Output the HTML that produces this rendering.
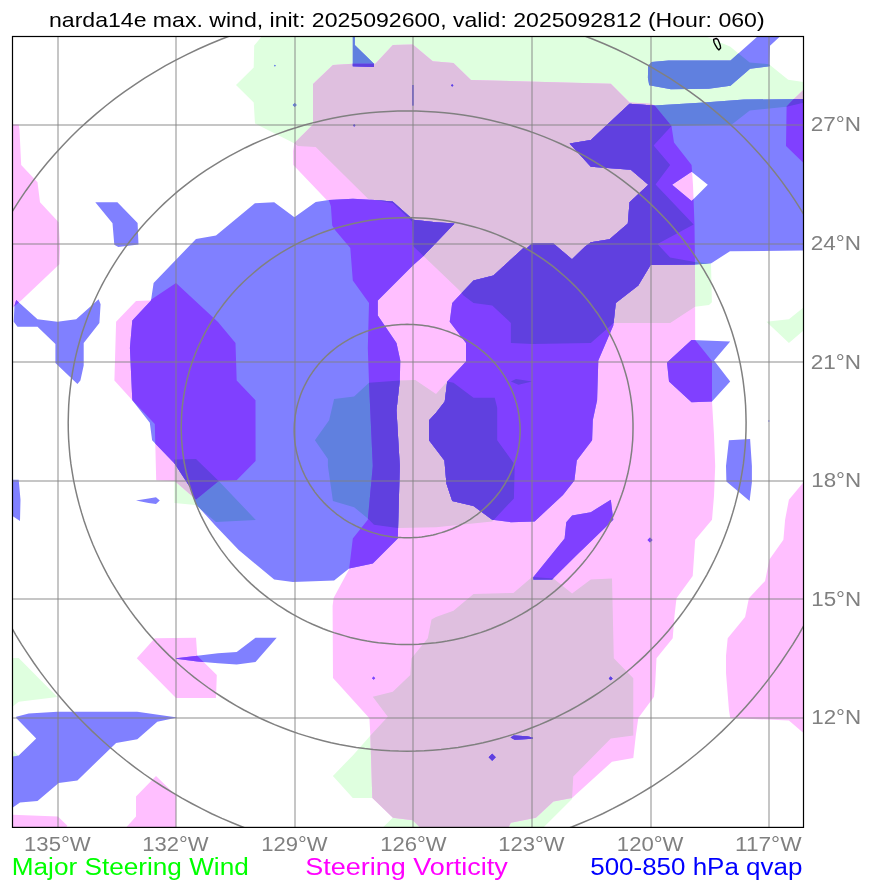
<!DOCTYPE html>
<html><head><meta charset="utf-8"><title>narda14e</title>
<style>html,body{margin:0;padding:0;background:#fff}svg{display:block}text{font-family:"Liberation Sans",sans-serif}</style></head>
<body>
<svg width="873" height="891" viewBox="0 0 873 891">
<rect width="873" height="891" fill="#fff"/>
<defs><clipPath id="ax"><rect x="12.5" y="36.5" width="791.0" height="790.9"/></clipPath>
<clipPath id="cG"><path clip-rule="evenodd" d="M261.7,36.5 L254.2,45.5 L253.7,67.5 L236.0,85.0 L253.7,102.4 L255.0,123.6 L293.7,143.0 L297.9,146.0 L315.7,147.1 L368.0,198.7 L392.7,203.0 L412.0,221.5 L413.0,246.0 L459.0,290.0 L463.5,295.4 L473.5,303.0 L492.2,305.4 L510.9,322.9 L510.9,342.9 L532.1,344.1 L590.8,342.9 L610.8,325.4 L613.3,322.9 L670.2,322.9 L695.0,306.7 L709.0,305.0 L711.9,302.2 L711.0,263.5 L695.0,262.0 L670.1,257.5 L657.5,244.0 L693.6,224.4 L655.6,184.4 L670.2,165.0 L653.6,145.5 L671.5,126.0 L731.5,124.8 L749.8,110.4 L786.5,106.8 L803.5,102.8 L803.5,82.0 L788.2,79.7 L769.0,64.3 L749.7,62.4 L730.0,46.6 L706.0,36.5Z M399.8,380.4 L369.0,382.8 L354.1,396.6 L334.1,399.1 L329.1,420.3 L314.9,440.3 L327.9,459.0 L327.9,466.0 L332.9,501.0 L354.1,507.2 L367.8,518.4 L374.0,524.7 L397.8,527.9 L436.0,527.2 L492.2,521.4 L513.9,498.5 L514.7,466.0 L513.4,462.8 L497.2,440.3 L497.2,407.8 L494.7,397.8 L473.5,397.8 L453.5,382.8 L447.2,381.6 L436.0,394.0 L415.3,379.9Z M174.4,459.6 L174.4,502.9 L195.4,504.9 L216.0,522.1 L255.8,520.0 L218.7,480.9 L196.0,459.1Z M436.0,617.0 L431.5,619.6 L427.8,638.3 L411.5,658.3 L410.3,675.0 L392.8,691.7 L372.8,696.7 L387.8,716.7 L371.6,734.2 L352.8,755.4 L332.9,775.9 L352.8,797.9 L372.3,797.9 L392.8,817.8 L382.8,827.4 L543.4,827.4 L572.0,799.0 L573.3,776.6 L610.8,738.4 L633.3,735.4 L633.3,678.3 L613.8,658.3 L612.0,578.4 L590.8,579.6 L572.1,593.4 L553.4,578.4 L532.1,577.1 L513.4,592.9 L473.5,593.9 L453.5,610.8Z M766.4,321.7 L788.9,319.2 L803.5,307.4 L803.5,330.4 L788.9,342.9Z M12.5,658.0 L18.7,658.0 L57.4,697.0 L18.7,701.7 L12.5,706.7Z M12.5,750.0 L18.0,755.4 L12.5,757.0Z M510.9,381.6 L516.0,379.0 L532.1,381.6 L518.4,384.8Z"/></clipPath>
<clipPath id="cM"><path clip-rule="evenodd" d="M12.5,124.6 L18.7,124.6 L19.5,130.0 L21.2,165.0 L37.5,182.3 L40.0,202.3 L58.7,222.3 L60.0,248.0 L59.4,264.2 L22.5,299.2 L12.5,308.0Z M149.8,300.4 L136.0,301.0 L116.1,321.7 L114.4,380.4 L132.3,400.3 L154.8,424.0 L156.2,480.2 L174.7,480.9 L196.0,499.4 L218.7,480.9 L236.6,480.2 L255.6,460.9 L255.5,400.3 L236.7,380.4 L235.5,342.9 L218.0,322.0 L176.0,283.0Z M313.0,84.0 L332.9,65.0 L352.8,63.7 L375.3,63.7 L392.8,45.0 L412.8,44.5 L432.8,61.2 L453.5,63.0 L471.0,80.0 L610.8,83.7 L629.5,102.4 L650.8,103.7 L654.6,105.6 L671.5,126.0 L674.0,142.6 L691.6,165.0 L693.0,185.0 L694.5,224.4 L695.0,264.4 L695.2,340.0 L712.0,361.0 L712.0,401.6 L714.0,435.3 L715.2,466.0 L714.0,496.0 L712.0,519.7 L695.2,539.7 L692.7,575.9 L676.5,598.3 L674.5,615.8 L672.7,638.3 L656.5,658.3 L655.2,684.0 L654.0,696.7 L638.3,718.0 L635.8,735.4 L633.3,757.9 L612.0,761.7 L572.0,797.9 L553.4,801.6 L535.9,817.8 L510.9,822.8 L508.4,827.4 L420.0,827.4 L412.8,820.3 L392.8,817.8 L372.3,797.9 L370.3,734.2 L369.4,718.3 L333.0,678.0 L332.6,606.0 L333.6,598.0 L349.1,569.2 L352.8,538.4 L367.8,519.7 L372.8,466.0 L369.0,382.8 L367.8,347.9 L369.0,303.0 L352.8,280.5 L350.3,248.0 L335.0,230.0 L332.2,225.5 L330.9,206.2 L328.8,200.0 L326.7,200.0 L293.3,165.0 L293.1,151.2 L294.4,143.0 L313.0,124.4Z M803.5,89.8 L793.5,99.3 L786.6,106.5 L786.0,146.0 L803.5,163.0Z M154.8,638.3 L196.0,637.8 L197.3,655.8 L216.8,675.0 L216.0,698.0 L176.0,698.0 L136.8,658.3Z M156.0,775.9 L176.0,795.4 L176.0,827.4 L126.1,827.4 L136.0,816.6 L136.0,796.6Z M12.5,814.8 L25.0,815.3 L57.9,816.6 L67.4,825.8 L66.0,827.4 L12.5,827.4Z M803.5,482.2 L788.9,499.7 L785.1,519.7 L783.4,539.7 L769.4,559.6 L765.1,580.9 L748.9,598.3 L745.1,617.0 L727.7,638.3 L726.0,655.8 L726.0,673.0 L729.0,710.5 L730.2,718.0 L788.9,720.5 L803.5,733.0Z"/></clipPath></defs>
<g clip-path="url(#ax)">
<path fill="#dfffdf" fill-rule="evenodd" d="M261.7,36.5 L254.2,45.5 L253.7,67.5 L236.0,85.0 L253.7,102.4 L255.0,123.6 L293.7,143.0 L297.9,146.0 L315.7,147.1 L368.0,198.7 L392.7,203.0 L412.0,221.5 L413.0,246.0 L459.0,290.0 L463.5,295.4 L473.5,303.0 L492.2,305.4 L510.9,322.9 L510.9,342.9 L532.1,344.1 L590.8,342.9 L610.8,325.4 L613.3,322.9 L670.2,322.9 L695.0,306.7 L709.0,305.0 L711.9,302.2 L711.0,263.5 L695.0,262.0 L670.1,257.5 L657.5,244.0 L693.6,224.4 L655.6,184.4 L670.2,165.0 L653.6,145.5 L671.5,126.0 L731.5,124.8 L749.8,110.4 L786.5,106.8 L803.5,102.8 L803.5,82.0 L788.2,79.7 L769.0,64.3 L749.7,62.4 L730.0,46.6 L706.0,36.5Z M399.8,380.4 L369.0,382.8 L354.1,396.6 L334.1,399.1 L329.1,420.3 L314.9,440.3 L327.9,459.0 L327.9,466.0 L332.9,501.0 L354.1,507.2 L367.8,518.4 L374.0,524.7 L397.8,527.9 L436.0,527.2 L492.2,521.4 L513.9,498.5 L514.7,466.0 L513.4,462.8 L497.2,440.3 L497.2,407.8 L494.7,397.8 L473.5,397.8 L453.5,382.8 L447.2,381.6 L436.0,394.0 L415.3,379.9Z M174.4,459.6 L174.4,502.9 L195.4,504.9 L216.0,522.1 L255.8,520.0 L218.7,480.9 L196.0,459.1Z M436.0,617.0 L431.5,619.6 L427.8,638.3 L411.5,658.3 L410.3,675.0 L392.8,691.7 L372.8,696.7 L387.8,716.7 L371.6,734.2 L352.8,755.4 L332.9,775.9 L352.8,797.9 L372.3,797.9 L392.8,817.8 L382.8,827.4 L543.4,827.4 L572.0,799.0 L573.3,776.6 L610.8,738.4 L633.3,735.4 L633.3,678.3 L613.8,658.3 L612.0,578.4 L590.8,579.6 L572.1,593.4 L553.4,578.4 L532.1,577.1 L513.4,592.9 L473.5,593.9 L453.5,610.8Z M766.4,321.7 L788.9,319.2 L803.5,307.4 L803.5,330.4 L788.9,342.9Z M12.5,658.0 L18.7,658.0 L57.4,697.0 L18.7,701.7 L12.5,706.7Z M12.5,750.0 L18.0,755.4 L12.5,757.0Z M510.9,381.6 L516.0,379.0 L532.1,381.6 L518.4,384.8Z"/>
<path fill="#ffbfff" fill-rule="evenodd" d="M12.5,124.6 L18.7,124.6 L19.5,130.0 L21.2,165.0 L37.5,182.3 L40.0,202.3 L58.7,222.3 L60.0,248.0 L59.4,264.2 L22.5,299.2 L12.5,308.0Z M149.8,300.4 L136.0,301.0 L116.1,321.7 L114.4,380.4 L132.3,400.3 L154.8,424.0 L156.2,480.2 L174.7,480.9 L196.0,499.4 L218.7,480.9 L236.6,480.2 L255.6,460.9 L255.5,400.3 L236.7,380.4 L235.5,342.9 L218.0,322.0 L176.0,283.0Z M313.0,84.0 L332.9,65.0 L352.8,63.7 L375.3,63.7 L392.8,45.0 L412.8,44.5 L432.8,61.2 L453.5,63.0 L471.0,80.0 L610.8,83.7 L629.5,102.4 L650.8,103.7 L654.6,105.6 L671.5,126.0 L674.0,142.6 L691.6,165.0 L693.0,185.0 L694.5,224.4 L695.0,264.4 L695.2,340.0 L712.0,361.0 L712.0,401.6 L714.0,435.3 L715.2,466.0 L714.0,496.0 L712.0,519.7 L695.2,539.7 L692.7,575.9 L676.5,598.3 L674.5,615.8 L672.7,638.3 L656.5,658.3 L655.2,684.0 L654.0,696.7 L638.3,718.0 L635.8,735.4 L633.3,757.9 L612.0,761.7 L572.0,797.9 L553.4,801.6 L535.9,817.8 L510.9,822.8 L508.4,827.4 L420.0,827.4 L412.8,820.3 L392.8,817.8 L372.3,797.9 L370.3,734.2 L369.4,718.3 L333.0,678.0 L332.6,606.0 L333.6,598.0 L349.1,569.2 L352.8,538.4 L367.8,519.7 L372.8,466.0 L369.0,382.8 L367.8,347.9 L369.0,303.0 L352.8,280.5 L350.3,248.0 L335.0,230.0 L332.2,225.5 L330.9,206.2 L328.8,200.0 L326.7,200.0 L293.3,165.0 L293.1,151.2 L294.4,143.0 L313.0,124.4Z M803.5,89.8 L793.5,99.3 L786.6,106.5 L786.0,146.0 L803.5,163.0Z M154.8,638.3 L196.0,637.8 L197.3,655.8 L216.8,675.0 L216.0,698.0 L176.0,698.0 L136.8,658.3Z M156.0,775.9 L176.0,795.4 L176.0,827.4 L126.1,827.4 L136.0,816.6 L136.0,796.6Z M12.5,814.8 L25.0,815.3 L57.9,816.6 L67.4,825.8 L66.0,827.4 L12.5,827.4Z M803.5,482.2 L788.9,499.7 L785.1,519.7 L783.4,539.7 L769.4,559.6 L765.1,580.9 L748.9,598.3 L745.1,617.0 L727.7,638.3 L726.0,655.8 L726.0,673.0 L729.0,710.5 L730.2,718.0 L788.9,720.5 L803.5,733.0Z"/>
<g clip-path="url(#cG)"><path fill="#dfbfdf" fill-rule="evenodd" d="M12.5,124.6 L18.7,124.6 L19.5,130.0 L21.2,165.0 L37.5,182.3 L40.0,202.3 L58.7,222.3 L60.0,248.0 L59.4,264.2 L22.5,299.2 L12.5,308.0Z M149.8,300.4 L136.0,301.0 L116.1,321.7 L114.4,380.4 L132.3,400.3 L154.8,424.0 L156.2,480.2 L174.7,480.9 L196.0,499.4 L218.7,480.9 L236.6,480.2 L255.6,460.9 L255.5,400.3 L236.7,380.4 L235.5,342.9 L218.0,322.0 L176.0,283.0Z M313.0,84.0 L332.9,65.0 L352.8,63.7 L375.3,63.7 L392.8,45.0 L412.8,44.5 L432.8,61.2 L453.5,63.0 L471.0,80.0 L610.8,83.7 L629.5,102.4 L650.8,103.7 L654.6,105.6 L671.5,126.0 L674.0,142.6 L691.6,165.0 L693.0,185.0 L694.5,224.4 L695.0,264.4 L695.2,340.0 L712.0,361.0 L712.0,401.6 L714.0,435.3 L715.2,466.0 L714.0,496.0 L712.0,519.7 L695.2,539.7 L692.7,575.9 L676.5,598.3 L674.5,615.8 L672.7,638.3 L656.5,658.3 L655.2,684.0 L654.0,696.7 L638.3,718.0 L635.8,735.4 L633.3,757.9 L612.0,761.7 L572.0,797.9 L553.4,801.6 L535.9,817.8 L510.9,822.8 L508.4,827.4 L420.0,827.4 L412.8,820.3 L392.8,817.8 L372.3,797.9 L370.3,734.2 L369.4,718.3 L333.0,678.0 L332.6,606.0 L333.6,598.0 L349.1,569.2 L352.8,538.4 L367.8,519.7 L372.8,466.0 L369.0,382.8 L367.8,347.9 L369.0,303.0 L352.8,280.5 L350.3,248.0 L335.0,230.0 L332.2,225.5 L330.9,206.2 L328.8,200.0 L326.7,200.0 L293.3,165.0 L293.1,151.2 L294.4,143.0 L313.0,124.4Z M803.5,89.8 L793.5,99.3 L786.6,106.5 L786.0,146.0 L803.5,163.0Z M154.8,638.3 L196.0,637.8 L197.3,655.8 L216.8,675.0 L216.0,698.0 L176.0,698.0 L136.8,658.3Z M156.0,775.9 L176.0,795.4 L176.0,827.4 L126.1,827.4 L136.0,816.6 L136.0,796.6Z M12.5,814.8 L25.0,815.3 L57.9,816.6 L67.4,825.8 L66.0,827.4 L12.5,827.4Z M803.5,482.2 L788.9,499.7 L785.1,519.7 L783.4,539.7 L769.4,559.6 L765.1,580.9 L748.9,598.3 L745.1,617.0 L727.7,638.3 L726.0,655.8 L726.0,673.0 L729.0,710.5 L730.2,718.0 L788.9,720.5 L803.5,733.0Z"/></g>
<path fill="#8080ff" fill-rule="evenodd" d="M187.3,248.0 L196.0,239.0 L216.0,235.5 L254.9,203.2 L274.2,202.3 L294.4,217.2 L315.7,202.1 L328.8,200.0 L352.9,198.7 L374.8,200.0 L392.7,201.4 L413.2,219.8 L436.0,222.3 L454.5,223.5 L423.0,256.4 L412.8,265.5 L377.8,300.4 L377.8,315.4 L396.5,342.9 L400.3,360.4 L399.8,380.4 L396.5,410.3 L399.8,466.0 L397.8,538.4 L372.8,563.4 L349.1,568.4 L334.1,580.4 L292.9,582.1 L274.2,579.6 L238.7,550.0 L216.0,526.2 L195.6,503.8 L191.2,489.1 L174.7,463.7 L152.1,440.3 L149.8,422.8 L132.3,400.3 L129.9,347.9 L132.3,320.4 L151.0,300.4 L153.6,283.0Z M436.0,412.8 L444.7,401.6 L447.2,381.6 L466.0,361.6 L466.0,342.9 L449.7,321.7 L452.2,303.0 L473.5,280.5 L493.4,275.5 L523.4,248.0 L527.0,248.0 L532.0,243.5 L553.4,243.5 L572.0,259.2 L584.6,247.0 L590.8,242.3 L609.5,239.3 L627.8,223.5 L629.5,202.3 L648.3,184.8 L630.8,169.8 L590.8,166.8 L569.6,143.6 L590.8,139.9 L629.5,103.7 L654.0,105.6 L704.0,102.4 L744.0,99.5 L803.5,99.1 L803.5,250.5 L730.0,251.2 L711.3,263.2 L695.0,264.4 L650.6,264.9 L638.3,285.5 L615.8,303.0 L613.3,325.4 L598.3,360.4 L597.1,400.3 L592.8,420.3 L592.1,440.3 L576.8,460.5 L574.4,480.5 L563.0,495.0 L534.6,521.4 L510.9,522.2 L492.2,519.7 L473.5,506.0 L452.2,501.0 L446.4,483.5 L444.4,460.5 L429.0,440.3 L429.0,420.3Z M672.1,184.8 L691.6,171.8 L707.8,184.8 L691.6,201.0Z M648.2,66.0 L651.5,62.0 L668.6,60.6 L730.5,60.4 L757.5,36.5 L779.9,36.5 L770.0,45.7 L769.6,66.3 L750.1,68.7 L730.5,85.8 L708.7,88.7 L670.9,89.3 L649.2,85.3 L647.9,78.0Z M16.2,300.0 L37.5,319.2 L57.4,321.7 L76.2,319.2 L98.6,299.2 L100.6,304.2 L99.4,323.0 L83.7,342.9 L83.7,365.4 L80.4,380.4 L77.4,384.0 L55.4,362.9 L55.4,344.0 L37.5,326.7 L17.5,326.7 L13.7,321.7 L14.5,305.4Z M95.3,202.3 L117.4,202.3 L137.6,223.0 L138.5,244.5 L118.3,247.0 L114.3,244.8 L112.5,223.3Z M691.5,339.9 L730.2,341.6 L714.0,360.4 L730.2,381.6 L712.0,401.6 L691.5,402.3 L669.0,381.6 L667.0,362.4Z M728.9,440.3 L750.1,439.0 L751.9,466.0 L751.9,482.2 L749.6,501.0 L726.4,481.5 L726.0,466.0Z M533.4,577.1 L564.6,538.4 L566.3,522.2 L572.1,515.4 L590.8,512.2 L610.8,499.7 L613.3,519.7 L575.8,555.9 L552.1,579.6 L533.4,579.6Z M12.5,479.7 L18.7,479.7 L20.5,499.7 L20.0,521.0 L12.5,516.0Z M136.0,500.5 L148.6,498.5 L156.0,497.2 L159.8,500.5 L156.0,504.0 L148.6,503.0Z M16.2,716.7 L28.7,713.5 L57.4,711.7 L137.3,711.7 L177.3,717.4 L157.3,721.7 L137.3,739.2 L116.1,742.9 L77.4,780.4 L58.7,782.9 L37.5,800.9 L20.0,802.4 L12.5,807.8 L12.5,756.7 L18.7,755.4 L36.2,738.4 L16.2,718.0Z M176.0,658.3 L197.3,655.8 L218.0,653.3 L236.7,652.0 L255.5,637.8 L276.7,637.8 L255.5,662.0 L236.7,664.5 L218.0,663.3 L197.3,661.5 L176.0,658.8Z M352.8,36.5 L354.8,36.5 L354.8,45.0 L374.0,63.7 L374.0,67.0 L352.8,66.2Z M292.7,105.0 L294.7,103.0 L296.7,105.0 L294.7,107.0Z M647.5,540.0 L650.0,537.5 L652.5,540.0 L650.0,542.5Z M488.7,757.2 L492.2,753.7 L495.7,757.2 L492.2,760.7Z M608.8,678.4 L610.7,676.5 L612.6,678.4 L610.7,680.3Z M372.0,678.2 L373.6,676.6 L375.2,678.2 L373.6,679.8Z M451.0,85.4 L452.2,84.2 L453.4,85.4 L452.2,86.6Z M274.0,65.7 L274.9,64.8 L275.8,65.7 L274.9,66.6Z M353.0,125.4 L354.2,124.2 L355.4,125.4 L354.2,126.6Z M768.0,421.0 L768.9,420.1 L769.8,421.0 L768.9,421.9Z M510.6,737.6 L513.7,735.6 L527.1,736.2 L532.7,737.4 L532.7,738.8 L514.7,739.8Z M412.6,85.0 L413.3,85.0 L413.3,105.5 L412.6,105.5Z"/>
<g clip-path="url(#cG)"><path fill="#6080df" fill-rule="evenodd" d="M187.3,248.0 L196.0,239.0 L216.0,235.5 L254.9,203.2 L274.2,202.3 L294.4,217.2 L315.7,202.1 L328.8,200.0 L352.9,198.7 L374.8,200.0 L392.7,201.4 L413.2,219.8 L436.0,222.3 L454.5,223.5 L423.0,256.4 L412.8,265.5 L377.8,300.4 L377.8,315.4 L396.5,342.9 L400.3,360.4 L399.8,380.4 L396.5,410.3 L399.8,466.0 L397.8,538.4 L372.8,563.4 L349.1,568.4 L334.1,580.4 L292.9,582.1 L274.2,579.6 L238.7,550.0 L216.0,526.2 L195.6,503.8 L191.2,489.1 L174.7,463.7 L152.1,440.3 L149.8,422.8 L132.3,400.3 L129.9,347.9 L132.3,320.4 L151.0,300.4 L153.6,283.0Z M436.0,412.8 L444.7,401.6 L447.2,381.6 L466.0,361.6 L466.0,342.9 L449.7,321.7 L452.2,303.0 L473.5,280.5 L493.4,275.5 L523.4,248.0 L527.0,248.0 L532.0,243.5 L553.4,243.5 L572.0,259.2 L584.6,247.0 L590.8,242.3 L609.5,239.3 L627.8,223.5 L629.5,202.3 L648.3,184.8 L630.8,169.8 L590.8,166.8 L569.6,143.6 L590.8,139.9 L629.5,103.7 L654.0,105.6 L704.0,102.4 L744.0,99.5 L803.5,99.1 L803.5,250.5 L730.0,251.2 L711.3,263.2 L695.0,264.4 L650.6,264.9 L638.3,285.5 L615.8,303.0 L613.3,325.4 L598.3,360.4 L597.1,400.3 L592.8,420.3 L592.1,440.3 L576.8,460.5 L574.4,480.5 L563.0,495.0 L534.6,521.4 L510.9,522.2 L492.2,519.7 L473.5,506.0 L452.2,501.0 L446.4,483.5 L444.4,460.5 L429.0,440.3 L429.0,420.3Z M672.1,184.8 L691.6,171.8 L707.8,184.8 L691.6,201.0Z M648.2,66.0 L651.5,62.0 L668.6,60.6 L730.5,60.4 L757.5,36.5 L779.9,36.5 L770.0,45.7 L769.6,66.3 L750.1,68.7 L730.5,85.8 L708.7,88.7 L670.9,89.3 L649.2,85.3 L647.9,78.0Z M16.2,300.0 L37.5,319.2 L57.4,321.7 L76.2,319.2 L98.6,299.2 L100.6,304.2 L99.4,323.0 L83.7,342.9 L83.7,365.4 L80.4,380.4 L77.4,384.0 L55.4,362.9 L55.4,344.0 L37.5,326.7 L17.5,326.7 L13.7,321.7 L14.5,305.4Z M95.3,202.3 L117.4,202.3 L137.6,223.0 L138.5,244.5 L118.3,247.0 L114.3,244.8 L112.5,223.3Z M691.5,339.9 L730.2,341.6 L714.0,360.4 L730.2,381.6 L712.0,401.6 L691.5,402.3 L669.0,381.6 L667.0,362.4Z M728.9,440.3 L750.1,439.0 L751.9,466.0 L751.9,482.2 L749.6,501.0 L726.4,481.5 L726.0,466.0Z M533.4,577.1 L564.6,538.4 L566.3,522.2 L572.1,515.4 L590.8,512.2 L610.8,499.7 L613.3,519.7 L575.8,555.9 L552.1,579.6 L533.4,579.6Z M12.5,479.7 L18.7,479.7 L20.5,499.7 L20.0,521.0 L12.5,516.0Z M136.0,500.5 L148.6,498.5 L156.0,497.2 L159.8,500.5 L156.0,504.0 L148.6,503.0Z M16.2,716.7 L28.7,713.5 L57.4,711.7 L137.3,711.7 L177.3,717.4 L157.3,721.7 L137.3,739.2 L116.1,742.9 L77.4,780.4 L58.7,782.9 L37.5,800.9 L20.0,802.4 L12.5,807.8 L12.5,756.7 L18.7,755.4 L36.2,738.4 L16.2,718.0Z M176.0,658.3 L197.3,655.8 L218.0,653.3 L236.7,652.0 L255.5,637.8 L276.7,637.8 L255.5,662.0 L236.7,664.5 L218.0,663.3 L197.3,661.5 L176.0,658.8Z M352.8,36.5 L354.8,36.5 L354.8,45.0 L374.0,63.7 L374.0,67.0 L352.8,66.2Z M292.7,105.0 L294.7,103.0 L296.7,105.0 L294.7,107.0Z M647.5,540.0 L650.0,537.5 L652.5,540.0 L650.0,542.5Z M488.7,757.2 L492.2,753.7 L495.7,757.2 L492.2,760.7Z M608.8,678.4 L610.7,676.5 L612.6,678.4 L610.7,680.3Z M372.0,678.2 L373.6,676.6 L375.2,678.2 L373.6,679.8Z M451.0,85.4 L452.2,84.2 L453.4,85.4 L452.2,86.6Z M274.0,65.7 L274.9,64.8 L275.8,65.7 L274.9,66.6Z M353.0,125.4 L354.2,124.2 L355.4,125.4 L354.2,126.6Z M768.0,421.0 L768.9,420.1 L769.8,421.0 L768.9,421.9Z M510.6,737.6 L513.7,735.6 L527.1,736.2 L532.7,737.4 L532.7,738.8 L514.7,739.8Z M412.6,85.0 L413.3,85.0 L413.3,105.5 L412.6,105.5Z"/></g>
<g clip-path="url(#cM)"><path fill="#8040ff" fill-rule="evenodd" d="M187.3,248.0 L196.0,239.0 L216.0,235.5 L254.9,203.2 L274.2,202.3 L294.4,217.2 L315.7,202.1 L328.8,200.0 L352.9,198.7 L374.8,200.0 L392.7,201.4 L413.2,219.8 L436.0,222.3 L454.5,223.5 L423.0,256.4 L412.8,265.5 L377.8,300.4 L377.8,315.4 L396.5,342.9 L400.3,360.4 L399.8,380.4 L396.5,410.3 L399.8,466.0 L397.8,538.4 L372.8,563.4 L349.1,568.4 L334.1,580.4 L292.9,582.1 L274.2,579.6 L238.7,550.0 L216.0,526.2 L195.6,503.8 L191.2,489.1 L174.7,463.7 L152.1,440.3 L149.8,422.8 L132.3,400.3 L129.9,347.9 L132.3,320.4 L151.0,300.4 L153.6,283.0Z M436.0,412.8 L444.7,401.6 L447.2,381.6 L466.0,361.6 L466.0,342.9 L449.7,321.7 L452.2,303.0 L473.5,280.5 L493.4,275.5 L523.4,248.0 L527.0,248.0 L532.0,243.5 L553.4,243.5 L572.0,259.2 L584.6,247.0 L590.8,242.3 L609.5,239.3 L627.8,223.5 L629.5,202.3 L648.3,184.8 L630.8,169.8 L590.8,166.8 L569.6,143.6 L590.8,139.9 L629.5,103.7 L654.0,105.6 L704.0,102.4 L744.0,99.5 L803.5,99.1 L803.5,250.5 L730.0,251.2 L711.3,263.2 L695.0,264.4 L650.6,264.9 L638.3,285.5 L615.8,303.0 L613.3,325.4 L598.3,360.4 L597.1,400.3 L592.8,420.3 L592.1,440.3 L576.8,460.5 L574.4,480.5 L563.0,495.0 L534.6,521.4 L510.9,522.2 L492.2,519.7 L473.5,506.0 L452.2,501.0 L446.4,483.5 L444.4,460.5 L429.0,440.3 L429.0,420.3Z M672.1,184.8 L691.6,171.8 L707.8,184.8 L691.6,201.0Z M648.2,66.0 L651.5,62.0 L668.6,60.6 L730.5,60.4 L757.5,36.5 L779.9,36.5 L770.0,45.7 L769.6,66.3 L750.1,68.7 L730.5,85.8 L708.7,88.7 L670.9,89.3 L649.2,85.3 L647.9,78.0Z M16.2,300.0 L37.5,319.2 L57.4,321.7 L76.2,319.2 L98.6,299.2 L100.6,304.2 L99.4,323.0 L83.7,342.9 L83.7,365.4 L80.4,380.4 L77.4,384.0 L55.4,362.9 L55.4,344.0 L37.5,326.7 L17.5,326.7 L13.7,321.7 L14.5,305.4Z M95.3,202.3 L117.4,202.3 L137.6,223.0 L138.5,244.5 L118.3,247.0 L114.3,244.8 L112.5,223.3Z M691.5,339.9 L730.2,341.6 L714.0,360.4 L730.2,381.6 L712.0,401.6 L691.5,402.3 L669.0,381.6 L667.0,362.4Z M728.9,440.3 L750.1,439.0 L751.9,466.0 L751.9,482.2 L749.6,501.0 L726.4,481.5 L726.0,466.0Z M533.4,577.1 L564.6,538.4 L566.3,522.2 L572.1,515.4 L590.8,512.2 L610.8,499.7 L613.3,519.7 L575.8,555.9 L552.1,579.6 L533.4,579.6Z M12.5,479.7 L18.7,479.7 L20.5,499.7 L20.0,521.0 L12.5,516.0Z M136.0,500.5 L148.6,498.5 L156.0,497.2 L159.8,500.5 L156.0,504.0 L148.6,503.0Z M16.2,716.7 L28.7,713.5 L57.4,711.7 L137.3,711.7 L177.3,717.4 L157.3,721.7 L137.3,739.2 L116.1,742.9 L77.4,780.4 L58.7,782.9 L37.5,800.9 L20.0,802.4 L12.5,807.8 L12.5,756.7 L18.7,755.4 L36.2,738.4 L16.2,718.0Z M176.0,658.3 L197.3,655.8 L218.0,653.3 L236.7,652.0 L255.5,637.8 L276.7,637.8 L255.5,662.0 L236.7,664.5 L218.0,663.3 L197.3,661.5 L176.0,658.8Z M352.8,36.5 L354.8,36.5 L354.8,45.0 L374.0,63.7 L374.0,67.0 L352.8,66.2Z M292.7,105.0 L294.7,103.0 L296.7,105.0 L294.7,107.0Z M647.5,540.0 L650.0,537.5 L652.5,540.0 L650.0,542.5Z M488.7,757.2 L492.2,753.7 L495.7,757.2 L492.2,760.7Z M608.8,678.4 L610.7,676.5 L612.6,678.4 L610.7,680.3Z M372.0,678.2 L373.6,676.6 L375.2,678.2 L373.6,679.8Z M451.0,85.4 L452.2,84.2 L453.4,85.4 L452.2,86.6Z M274.0,65.7 L274.9,64.8 L275.8,65.7 L274.9,66.6Z M353.0,125.4 L354.2,124.2 L355.4,125.4 L354.2,126.6Z M768.0,421.0 L768.9,420.1 L769.8,421.0 L768.9,421.9Z M510.6,737.6 L513.7,735.6 L527.1,736.2 L532.7,737.4 L532.7,738.8 L514.7,739.8Z M412.6,85.0 L413.3,85.0 L413.3,105.5 L412.6,105.5Z"/>
<g clip-path="url(#cG)"><path fill="#6040df" fill-rule="evenodd" d="M187.3,248.0 L196.0,239.0 L216.0,235.5 L254.9,203.2 L274.2,202.3 L294.4,217.2 L315.7,202.1 L328.8,200.0 L352.9,198.7 L374.8,200.0 L392.7,201.4 L413.2,219.8 L436.0,222.3 L454.5,223.5 L423.0,256.4 L412.8,265.5 L377.8,300.4 L377.8,315.4 L396.5,342.9 L400.3,360.4 L399.8,380.4 L396.5,410.3 L399.8,466.0 L397.8,538.4 L372.8,563.4 L349.1,568.4 L334.1,580.4 L292.9,582.1 L274.2,579.6 L238.7,550.0 L216.0,526.2 L195.6,503.8 L191.2,489.1 L174.7,463.7 L152.1,440.3 L149.8,422.8 L132.3,400.3 L129.9,347.9 L132.3,320.4 L151.0,300.4 L153.6,283.0Z M436.0,412.8 L444.7,401.6 L447.2,381.6 L466.0,361.6 L466.0,342.9 L449.7,321.7 L452.2,303.0 L473.5,280.5 L493.4,275.5 L523.4,248.0 L527.0,248.0 L532.0,243.5 L553.4,243.5 L572.0,259.2 L584.6,247.0 L590.8,242.3 L609.5,239.3 L627.8,223.5 L629.5,202.3 L648.3,184.8 L630.8,169.8 L590.8,166.8 L569.6,143.6 L590.8,139.9 L629.5,103.7 L654.0,105.6 L704.0,102.4 L744.0,99.5 L803.5,99.1 L803.5,250.5 L730.0,251.2 L711.3,263.2 L695.0,264.4 L650.6,264.9 L638.3,285.5 L615.8,303.0 L613.3,325.4 L598.3,360.4 L597.1,400.3 L592.8,420.3 L592.1,440.3 L576.8,460.5 L574.4,480.5 L563.0,495.0 L534.6,521.4 L510.9,522.2 L492.2,519.7 L473.5,506.0 L452.2,501.0 L446.4,483.5 L444.4,460.5 L429.0,440.3 L429.0,420.3Z M672.1,184.8 L691.6,171.8 L707.8,184.8 L691.6,201.0Z M648.2,66.0 L651.5,62.0 L668.6,60.6 L730.5,60.4 L757.5,36.5 L779.9,36.5 L770.0,45.7 L769.6,66.3 L750.1,68.7 L730.5,85.8 L708.7,88.7 L670.9,89.3 L649.2,85.3 L647.9,78.0Z M16.2,300.0 L37.5,319.2 L57.4,321.7 L76.2,319.2 L98.6,299.2 L100.6,304.2 L99.4,323.0 L83.7,342.9 L83.7,365.4 L80.4,380.4 L77.4,384.0 L55.4,362.9 L55.4,344.0 L37.5,326.7 L17.5,326.7 L13.7,321.7 L14.5,305.4Z M95.3,202.3 L117.4,202.3 L137.6,223.0 L138.5,244.5 L118.3,247.0 L114.3,244.8 L112.5,223.3Z M691.5,339.9 L730.2,341.6 L714.0,360.4 L730.2,381.6 L712.0,401.6 L691.5,402.3 L669.0,381.6 L667.0,362.4Z M728.9,440.3 L750.1,439.0 L751.9,466.0 L751.9,482.2 L749.6,501.0 L726.4,481.5 L726.0,466.0Z M533.4,577.1 L564.6,538.4 L566.3,522.2 L572.1,515.4 L590.8,512.2 L610.8,499.7 L613.3,519.7 L575.8,555.9 L552.1,579.6 L533.4,579.6Z M12.5,479.7 L18.7,479.7 L20.5,499.7 L20.0,521.0 L12.5,516.0Z M136.0,500.5 L148.6,498.5 L156.0,497.2 L159.8,500.5 L156.0,504.0 L148.6,503.0Z M16.2,716.7 L28.7,713.5 L57.4,711.7 L137.3,711.7 L177.3,717.4 L157.3,721.7 L137.3,739.2 L116.1,742.9 L77.4,780.4 L58.7,782.9 L37.5,800.9 L20.0,802.4 L12.5,807.8 L12.5,756.7 L18.7,755.4 L36.2,738.4 L16.2,718.0Z M176.0,658.3 L197.3,655.8 L218.0,653.3 L236.7,652.0 L255.5,637.8 L276.7,637.8 L255.5,662.0 L236.7,664.5 L218.0,663.3 L197.3,661.5 L176.0,658.8Z M352.8,36.5 L354.8,36.5 L354.8,45.0 L374.0,63.7 L374.0,67.0 L352.8,66.2Z M292.7,105.0 L294.7,103.0 L296.7,105.0 L294.7,107.0Z M647.5,540.0 L650.0,537.5 L652.5,540.0 L650.0,542.5Z M488.7,757.2 L492.2,753.7 L495.7,757.2 L492.2,760.7Z M608.8,678.4 L610.7,676.5 L612.6,678.4 L610.7,680.3Z M372.0,678.2 L373.6,676.6 L375.2,678.2 L373.6,679.8Z M451.0,85.4 L452.2,84.2 L453.4,85.4 L452.2,86.6Z M274.0,65.7 L274.9,64.8 L275.8,65.7 L274.9,66.6Z M353.0,125.4 L354.2,124.2 L355.4,125.4 L354.2,126.6Z M768.0,421.0 L768.9,420.1 L769.8,421.0 L768.9,421.9Z M510.6,737.6 L513.7,735.6 L527.1,736.2 L532.7,737.4 L532.7,738.8 L514.7,739.8Z M412.6,85.0 L413.3,85.0 L413.3,105.5 L412.6,105.5Z"/></g></g>
<path d="M58,36.5V827.4 M176,36.5V827.4 M295,36.5V827.4 M413,36.5V827.4 M532,36.5V827.4 M651,36.5V827.4 M769,36.5V827.4" stroke="#808080" stroke-opacity="0.45" stroke-width="2" fill="none"/>
<path d="M12.5,125H803.5 M12.5,244H803.5 M12.5,362H803.5 M12.5,481H803.5 M12.5,599H803.5 M12.5,718H803.5" stroke="#808080" stroke-opacity="0.45" stroke-width="2" fill="none"/>
<path d="M407.1,324.3 L410.2,324.4 L413.2,324.5 L416.2,324.7 L419.2,324.9 L422.1,325.3 L425.1,325.7 L428.1,326.1 L431.0,326.7 L434.0,327.3 L436.9,328.0 L439.8,328.8 L442.6,329.6 L445.5,330.6 L448.3,331.5 L451.1,332.6 L453.8,333.7 L456.5,334.9 L459.2,336.1 L461.9,337.5 L464.5,338.9 L467.0,340.3 L469.5,341.8 L472.0,343.4 L474.5,345.0 L476.8,346.7 L479.2,348.5 L481.4,350.3 L483.7,352.1 L485.9,354.1 L488.0,356.0 L490.0,358.1 L492.0,360.1 L494.0,362.3 L495.9,364.4 L497.7,366.7 L499.4,368.9 L501.1,371.2 L502.7,373.6 L504.3,375.9 L505.8,378.4 L507.2,380.8 L508.5,383.3 L509.8,385.8 L511.0,388.4 L512.1,391.0 L513.2,393.6 L514.2,396.2 L515.1,398.9 L515.9,401.6 L516.7,404.3 L517.4,407.0 L518.0,409.7 L518.5,412.5 L519.0,415.2 L519.3,418.0 L519.6,420.8 L519.9,423.5 L520.0,426.3 L520.1,429.1 L520.1,431.9 L520.0,434.7 L519.8,437.5 L519.6,440.3 L519.3,443.1 L518.9,445.8 L518.4,448.6 L517.9,451.3 L517.2,454.1 L516.5,456.8 L515.8,459.5 L514.9,462.1 L514.0,464.8 L513.0,467.4 L512.0,470.0 L510.8,472.6 L509.6,475.2 L508.4,477.7 L507.0,480.2 L505.6,482.6 L504.2,485.0 L502.6,487.4 L501.0,489.8 L499.4,492.1 L497.7,494.3 L495.9,496.5 L494.0,498.7 L492.1,500.8 L490.2,502.9 L488.2,504.9 L486.1,506.9 L484.0,508.8 L481.8,510.7 L479.6,512.5 L477.4,514.3 L475.0,516.0 L472.7,517.7 L470.3,519.3 L467.8,520.8 L465.4,522.3 L462.9,523.7 L460.3,525.0 L457.7,526.3 L455.1,527.5 L452.4,528.7 L449.7,529.8 L447.0,530.8 L444.3,531.7 L441.5,532.6 L438.7,533.4 L435.9,534.2 L433.1,534.9 L430.3,535.5 L427.4,536.0 L424.5,536.5 L421.7,536.9 L418.8,537.2 L415.9,537.4 L413.0,537.6 L410.1,537.7 L407.1,537.8 L404.2,537.7 L401.3,537.6 L398.4,537.4 L395.5,537.2 L392.6,536.9 L389.8,536.5 L386.9,536.0 L384.0,535.5 L381.2,534.9 L378.4,534.2 L375.6,533.4 L372.8,532.6 L370.0,531.7 L367.3,530.8 L364.6,529.8 L361.9,528.7 L359.2,527.5 L356.6,526.3 L354.0,525.0 L351.4,523.7 L348.9,522.3 L346.4,520.8 L344.0,519.3 L341.6,517.7 L339.3,516.0 L336.9,514.3 L334.7,512.5 L332.5,510.7 L330.3,508.8 L328.2,506.9 L326.1,504.9 L324.1,502.9 L322.2,500.8 L320.3,498.7 L318.4,496.5 L316.6,494.3 L314.9,492.1 L313.3,489.8 L311.7,487.4 L310.1,485.0 L308.7,482.6 L307.3,480.2 L305.9,477.7 L304.7,475.2 L303.5,472.6 L302.3,470.0 L301.3,467.4 L300.3,464.8 L299.4,462.1 L298.5,459.5 L297.8,456.8 L297.1,454.1 L296.4,451.3 L295.9,448.6 L295.4,445.8 L295.0,443.1 L294.7,440.3 L294.5,437.5 L294.3,434.7 L294.2,431.9 L294.2,429.1 L294.3,426.3 L294.4,423.5 L294.7,420.8 L295.0,418.0 L295.3,415.2 L295.8,412.5 L296.3,409.7 L296.9,407.0 L297.6,404.3 L298.4,401.6 L299.2,398.9 L300.1,396.2 L301.1,393.6 L302.1,391.0 L303.3,388.4 L304.5,385.8 L305.8,383.3 L307.1,380.8 L308.5,378.4 L310.0,375.9 L311.6,373.6 L313.2,371.2 L314.9,368.9 L316.6,366.7 L318.4,364.4 L320.3,362.3 L322.3,360.1 L324.3,358.1 L326.3,356.0 L328.4,354.1 L330.6,352.1 L332.8,350.3 L335.1,348.5 L337.5,346.7 L339.8,345.0 L342.3,343.4 L344.7,341.8 L347.3,340.3 L349.8,338.9 L352.4,337.5 L355.1,336.1 L357.8,334.9 L360.5,333.7 L363.2,332.6 L366.0,331.5 L368.8,330.6 L371.7,329.6 L374.5,328.8 L377.4,328.0 L380.3,327.3 L383.3,326.7 L386.2,326.1 L389.2,325.7 L392.2,325.3 L395.1,324.9 L398.1,324.7 L401.1,324.5 L404.1,324.4Z M407.1,217.6 L413.3,217.7 L419.4,217.9 L425.5,218.3 L431.6,218.8 L437.7,219.5 L443.8,220.3 L449.8,221.3 L455.8,222.4 L461.8,223.7 L467.7,225.2 L473.6,226.7 L479.4,228.4 L485.2,230.3 L490.9,232.3 L496.5,234.4 L502.1,236.7 L507.6,239.1 L513.0,241.7 L518.4,244.4 L523.6,247.2 L528.8,250.1 L533.9,253.2 L538.9,256.4 L543.8,259.7 L548.6,263.2 L553.3,266.7 L557.8,270.4 L562.3,274.2 L566.6,278.0 L570.9,282.0 L575.0,286.1 L579.0,290.3 L582.8,294.6 L586.6,299.0 L590.2,303.5 L593.6,308.1 L597.0,312.7 L600.1,317.4 L603.2,322.2 L606.1,327.1 L608.9,332.1 L611.5,337.1 L614.0,342.2 L616.3,347.3 L618.5,352.5 L620.5,357.7 L622.4,363.0 L624.1,368.4 L625.7,373.8 L627.2,379.2 L628.4,384.6 L629.5,390.1 L630.5,395.6 L631.3,401.1 L632.0,406.7 L632.5,412.2 L632.8,417.8 L633.0,423.4 L633.0,429.0 L632.9,434.5 L632.7,440.1 L632.2,445.7 L631.7,451.2 L630.9,456.8 L630.1,462.3 L629.0,467.8 L627.9,473.3 L626.5,478.7 L625.1,484.1 L623.5,489.4 L621.7,494.8 L619.8,500.0 L617.8,505.3 L615.6,510.5 L613.3,515.6 L610.8,520.6 L608.2,525.6 L605.5,530.6 L602.7,535.4 L599.7,540.2 L596.6,544.9 L593.4,549.6 L590.0,554.1 L586.6,558.6 L583.0,563.0 L579.3,567.3 L575.5,571.5 L571.6,575.6 L567.6,579.6 L563.4,583.6 L559.2,587.4 L554.9,591.1 L550.5,594.7 L546.0,598.2 L541.4,601.5 L536.7,604.8 L531.9,607.9 L527.1,611.0 L522.2,613.9 L517.2,616.7 L512.1,619.3 L507.0,621.9 L501.8,624.3 L496.5,626.5 L491.2,628.7 L485.9,630.7 L480.5,632.6 L475.0,634.3 L469.5,635.9 L464.0,637.4 L458.4,638.7 L452.8,639.9 L447.1,641.0 L441.5,641.9 L435.8,642.7 L430.1,643.3 L424.4,643.8 L418.6,644.2 L412.9,644.4 L407.1,644.5 L401.4,644.4 L395.7,644.2 L389.9,643.8 L384.2,643.3 L378.5,642.7 L372.8,641.9 L367.2,641.0 L361.5,639.9 L355.9,638.7 L350.3,637.4 L344.8,635.9 L339.3,634.3 L333.8,632.6 L328.4,630.7 L323.1,628.7 L317.8,626.5 L312.5,624.3 L307.3,621.9 L302.2,619.3 L297.1,616.7 L292.1,613.9 L287.2,611.0 L282.4,607.9 L277.6,604.8 L272.9,601.5 L268.3,598.2 L263.8,594.7 L259.4,591.1 L255.1,587.4 L250.9,583.6 L246.7,579.6 L242.7,575.6 L238.8,571.5 L235.0,567.3 L231.3,563.0 L227.7,558.6 L224.3,554.1 L220.9,549.6 L217.7,544.9 L214.6,540.2 L211.6,535.4 L208.8,530.6 L206.1,525.6 L203.5,520.6 L201.0,515.6 L198.7,510.5 L196.5,505.3 L194.5,500.0 L192.6,494.8 L190.8,489.4 L189.2,484.1 L187.8,478.7 L186.4,473.3 L185.3,467.8 L184.2,462.3 L183.4,456.8 L182.6,451.2 L182.1,445.7 L181.6,440.1 L181.4,434.5 L181.2,429.0 L181.3,423.4 L181.5,417.8 L181.8,412.2 L182.3,406.7 L183.0,401.1 L183.8,395.6 L184.8,390.1 L185.9,384.6 L187.1,379.2 L188.6,373.8 L190.1,368.4 L191.9,363.0 L193.8,357.7 L195.8,352.5 L198.0,347.3 L200.3,342.2 L202.8,337.1 L205.4,332.1 L208.2,327.1 L211.1,322.2 L214.2,317.4 L217.3,312.7 L220.7,308.1 L224.1,303.5 L227.7,299.0 L231.5,294.6 L235.3,290.3 L239.3,286.1 L243.4,282.0 L247.7,278.0 L252.0,274.2 L256.5,270.4 L261.0,266.7 L265.7,263.2 L270.5,259.7 L275.4,256.4 L280.4,253.2 L285.5,250.1 L290.7,247.2 L295.9,244.4 L301.3,241.7 L306.7,239.1 L312.2,236.7 L317.8,234.4 L323.4,232.3 L329.1,230.3 L334.9,228.4 L340.7,226.7 L346.6,225.2 L352.5,223.7 L358.5,222.4 L364.5,221.3 L370.5,220.3 L376.6,219.5 L382.7,218.8 L388.8,218.3 L394.9,217.9 L401.0,217.7Z M407.1,110.9 L416.5,111.0 L425.9,111.4 L435.3,111.9 L444.6,112.8 L454.0,113.8 L463.2,115.1 L472.5,116.6 L481.7,118.3 L490.8,120.3 L499.8,122.4 L508.8,124.8 L517.7,127.5 L526.5,130.3 L535.2,133.4 L543.8,136.6 L552.3,140.1 L560.6,143.8 L568.9,147.7 L577.0,151.8 L585.0,156.1 L592.8,160.6 L600.5,165.3 L608.0,170.2 L615.4,175.2 L622.6,180.4 L629.7,185.9 L636.6,191.4 L643.3,197.2 L649.8,203.1 L656.1,209.2 L662.2,215.4 L668.2,221.8 L673.9,228.3 L679.4,234.9 L684.8,241.7 L689.9,248.6 L694.8,255.7 L699.5,262.8 L704.0,270.1 L708.3,277.5 L712.3,284.9 L716.1,292.5 L719.7,300.2 L723.1,307.9 L726.2,315.7 L729.1,323.7 L731.8,331.6 L734.3,339.7 L736.5,347.8 L738.5,355.9 L740.3,364.1 L741.8,372.3 L743.1,380.6 L744.1,388.9 L745.0,397.2 L745.6,405.5 L745.9,413.9 L746.1,422.2 L746.0,430.6 L745.7,438.9 L745.1,447.3 L744.3,455.6 L743.4,463.9 L742.1,472.2 L740.7,480.4 L739.0,488.6 L737.1,496.7 L735.0,504.9 L732.7,512.9 L730.2,520.9 L727.5,528.8 L724.5,536.7 L721.4,544.5 L718.0,552.2 L714.5,559.8 L710.7,567.4 L706.8,574.8 L702.6,582.1 L698.3,589.4 L693.8,596.5 L689.1,603.5 L684.3,610.4 L679.2,617.2 L674.0,623.8 L668.6,630.4 L663.1,636.8 L657.4,643.0 L651.5,649.1 L645.5,655.1 L639.3,660.9 L633.0,666.5 L626.6,672.0 L620.0,677.4 L613.2,682.5 L606.4,687.5 L599.4,692.4 L592.3,697.0 L585.1,701.5 L577.8,705.8 L570.4,710.0 L562.8,713.9 L555.2,717.7 L547.5,721.2 L539.7,724.6 L531.8,727.8 L523.9,730.8 L515.8,733.6 L507.7,736.1 L499.6,738.5 L491.3,740.7 L483.1,742.7 L474.8,744.5 L466.4,746.0 L458.0,747.4 L449.6,748.6 L441.1,749.5 L432.6,750.2 L424.2,750.8 L415.7,751.1 L407.1,751.2 L398.6,751.1 L390.1,750.8 L381.7,750.2 L373.2,749.5 L364.7,748.6 L356.3,747.4 L347.9,746.0 L339.5,744.5 L331.2,742.7 L323.0,740.7 L314.7,738.5 L306.6,736.1 L298.5,733.6 L290.4,730.8 L282.5,727.8 L274.6,724.6 L266.8,721.2 L259.1,717.7 L251.5,713.9 L243.9,710.0 L236.5,705.8 L229.2,701.5 L222.0,697.0 L214.9,692.4 L207.9,687.5 L201.1,682.5 L194.3,677.4 L187.7,672.0 L181.3,666.5 L175.0,660.9 L168.8,655.1 L162.8,649.1 L156.9,643.0 L151.2,636.8 L145.7,630.4 L140.3,623.8 L135.1,617.2 L130.0,610.4 L125.2,603.5 L120.5,596.5 L116.0,589.4 L111.6,582.1 L107.5,574.8 L103.6,567.4 L99.8,559.8 L96.3,552.2 L92.9,544.5 L89.8,536.7 L86.8,528.8 L84.1,520.9 L81.6,512.9 L79.3,504.9 L77.2,496.7 L75.3,488.6 L73.6,480.4 L72.2,472.2 L70.9,463.9 L69.9,455.6 L69.2,447.3 L68.6,438.9 L68.3,430.6 L68.2,422.2 L68.4,413.9 L68.7,405.5 L69.3,397.2 L70.2,388.9 L71.2,380.6 L72.5,372.3 L74.0,364.1 L75.8,355.9 L77.8,347.8 L80.0,339.7 L82.5,331.6 L85.2,323.7 L88.1,315.7 L91.2,307.9 L94.6,300.2 L98.2,292.5 L102.0,284.9 L106.0,277.5 L110.3,270.1 L114.8,262.8 L119.5,255.7 L124.4,248.6 L129.5,241.7 L134.9,234.9 L140.4,228.3 L146.1,221.8 L152.1,215.4 L158.2,209.2 L164.5,203.1 L171.0,197.2 L177.7,191.4 L184.6,185.9 L191.7,180.4 L198.9,175.2 L206.2,170.2 L213.8,165.3 L221.5,160.6 L229.3,156.1 L237.3,151.8 L245.4,147.7 L253.7,143.8 L262.0,140.1 L270.5,136.6 L279.1,133.4 L287.8,130.3 L296.6,127.5 L305.5,124.8 L314.5,122.4 L323.5,120.3 L332.6,118.3 L341.8,116.6 L351.1,115.1 L360.3,113.8 L369.6,112.8 L379.0,111.9 L388.4,111.4 L397.8,111.0Z M407.1,4.2 L420.0,4.3 L432.8,4.8 L445.6,5.6 L458.3,6.7 L471.0,8.1 L483.7,9.9 L496.2,11.9 L508.7,14.3 L521.2,17.0 L533.5,19.9 L545.7,23.2 L557.7,26.8 L569.7,30.6 L581.5,34.8 L593.1,39.3 L604.6,44.0 L615.9,49.0 L627.1,54.3 L638.0,59.9 L648.8,65.7 L659.3,71.8 L669.7,78.2 L679.8,84.8 L689.7,91.6 L699.3,98.7 L708.7,106.0 L717.9,113.6 L726.8,121.4 L735.5,129.3 L743.9,137.5 L752.0,145.9 L759.8,154.5 L767.4,163.3 L774.7,172.3 L781.7,181.4 L788.4,190.7 L794.8,200.2 L801.0,209.8 L806.8,219.6 L812.3,229.5 L817.5,239.5 L822.4,249.7 L827.1,259.9 L831.4,270.3 L835.4,280.8 L839.0,291.4 L842.4,302.0 L845.5,312.8 L848.3,323.6 L850.7,334.5 L852.8,345.4 L854.7,356.4 L856.2,367.4 L857.4,378.4 L858.3,389.5 L858.9,400.6 L859.2,411.7 L859.2,422.8 L858.8,433.9 L858.2,445.0 L857.3,456.1 L856.1,467.2 L854.6,478.2 L852.8,489.1 L850.7,500.1 L848.3,510.9 L845.7,521.8 L842.7,532.5 L839.5,543.2 L836.0,553.8 L832.3,564.3 L828.2,574.7 L823.9,585.0 L819.4,595.2 L814.5,605.3 L809.5,615.2 L804.1,625.1 L798.6,634.8 L792.8,644.3 L786.7,653.7 L780.4,663.0 L773.9,672.1 L767.1,681.1 L760.2,689.9 L753.0,698.5 L745.6,706.9 L738.0,715.2 L730.2,723.2 L722.2,731.1 L714.0,738.7 L705.6,746.2 L697.0,753.5 L688.3,760.5 L679.4,767.3 L670.3,774.0 L661.0,780.3 L651.7,786.5 L642.1,792.4 L632.4,798.1 L622.6,803.5 L612.7,808.7 L602.6,813.7 L592.4,818.4 L582.1,822.8 L571.7,827.0 L561.1,831.0 L550.5,834.6 L539.8,838.1 L529.1,841.2 L518.2,844.1 L507.3,846.7 L496.3,849.0 L485.3,851.1 L474.2,852.9 L463.1,854.4 L452.0,855.7 L440.8,856.6 L429.6,857.3 L418.4,857.8 L407.1,857.9 L395.9,857.8 L384.7,857.3 L373.5,856.6 L362.3,855.7 L351.2,854.4 L340.1,852.9 L329.0,851.1 L318.0,849.0 L307.0,846.7 L296.1,844.1 L285.2,841.2 L274.4,838.1 L263.8,834.6 L253.1,831.0 L242.6,827.0 L232.2,822.8 L221.9,818.4 L211.7,813.7 L201.6,808.7 L191.7,803.5 L181.9,798.1 L172.2,792.4 L162.6,786.5 L153.2,780.3 L144.0,774.0 L134.9,767.3 L126.0,760.5 L117.3,753.5 L108.7,746.2 L100.3,738.7 L92.1,731.1 L84.1,723.2 L76.3,715.2 L68.7,706.9 L61.3,698.5 L54.1,689.9 L47.2,681.1 L40.4,672.1 L33.9,663.0 L27.6,653.7 L21.5,644.3 L15.7,634.8 L10.2,625.1 L4.8,615.2 L-0.3,605.3 L-5.1,595.2 L-9.6,585.0 L-13.9,574.7 L-18.0,564.3 L-21.7,553.8 L-25.2,543.2 L-28.4,532.5 L-31.4,521.8 L-34.0,510.9 L-36.4,500.1 L-38.5,489.1 L-40.3,478.2 L-41.8,467.2 L-43.0,456.1 L-43.9,445.0 L-44.6,433.9 L-44.9,422.8 L-44.9,411.7 L-44.6,400.6 L-44.0,389.5 L-43.1,378.4 L-41.9,367.4 L-40.4,356.4 L-38.5,345.4 L-36.4,334.5 L-34.0,323.6 L-31.2,312.8 L-28.1,302.0 L-24.8,291.4 L-21.1,280.8 L-17.1,270.3 L-12.8,259.9 L-8.1,249.7 L-3.2,239.5 L2.0,229.5 L7.5,219.6 L13.3,209.8 L19.5,200.2 L25.9,190.7 L32.6,181.4 L39.6,172.3 L46.9,163.3 L54.5,154.5 L62.3,145.9 L70.4,137.5 L78.8,129.3 L87.5,121.4 L96.4,113.6 L105.6,106.0 L115.0,98.7 L124.6,91.6 L134.5,84.8 L144.6,78.2 L155.0,71.8 L165.5,65.7 L176.3,59.9 L187.2,54.3 L198.4,49.0 L209.7,44.0 L221.2,39.3 L232.8,34.8 L244.6,30.6 L256.6,26.8 L268.6,23.2 L280.8,19.9 L293.1,17.0 L305.5,14.3 L318.0,11.9 L330.6,9.9 L343.3,8.1 L356.0,6.7 L368.7,5.6 L381.5,4.8 L394.3,4.3Z" stroke="#808080" stroke-width="1.5" fill="none"/>
<path d="M713.6,39.4 L716.2,38.5 L717.8,39.3 L719.1,42.2 L720.2,45.2 L720.6,48.0 L719.0,49.9 L717.2,48.2 L715.4,45.2 L714.0,42.2Z" stroke="#000" stroke-width="1.4" fill="none" stroke-linejoin="round"/>
</g>
<rect x="12.5" y="36.5" width="791.0" height="790.9" fill="none" stroke="#000" stroke-width="1.2"/>
<g style="will-change:transform">
<text x="48.97" y="27.00" font-size="20.4" textLength="715.66" lengthAdjust="spacingAndGlyphs" fill="#000">narda14e max. wind, init: 2025092600, valid: 2025092812 (Hour: 060)</text>
<text x="24.02" y="851.20" font-size="20.5" textLength="66.69" lengthAdjust="spacingAndGlyphs" fill="#808080">135°W</text>
<text x="142.29" y="851.20" font-size="20.5" textLength="66.35" lengthAdjust="spacingAndGlyphs" fill="#808080">132°W</text>
<text x="261.29" y="851.20" font-size="20.5" textLength="66.35" lengthAdjust="spacingAndGlyphs" fill="#808080">129°W</text>
<text x="380.19" y="851.20" font-size="20.5" textLength="66.41" lengthAdjust="spacingAndGlyphs" fill="#808080">126°W</text>
<text x="498.29" y="851.20" font-size="20.5" textLength="66.35" lengthAdjust="spacingAndGlyphs" fill="#808080">123°W</text>
<text x="616.86" y="851.20" font-size="20.5" textLength="66.62" lengthAdjust="spacingAndGlyphs" fill="#808080">120°W</text>
<text x="735.09" y="851.20" font-size="20.5" textLength="66.39" lengthAdjust="spacingAndGlyphs" fill="#808080">117°W</text>
<text x="810.89" y="131.10" font-size="20.5" textLength="50.23" lengthAdjust="spacingAndGlyphs" fill="#808080">27°N</text>
<text x="810.89" y="249.90" font-size="20.5" textLength="50.23" lengthAdjust="spacingAndGlyphs" fill="#808080">24°N</text>
<text x="810.89" y="369.06" font-size="20.5" textLength="50.23" lengthAdjust="spacingAndGlyphs" fill="#808080">21°N</text>
<text x="811.21" y="486.90" font-size="20.5" textLength="49.92" lengthAdjust="spacingAndGlyphs" fill="#808080">18°N</text>
<text x="811.21" y="606.06" font-size="20.5" textLength="49.92" lengthAdjust="spacingAndGlyphs" fill="#808080">15°N</text>
<text x="811.21" y="724.06" font-size="20.5" textLength="49.92" lengthAdjust="spacingAndGlyphs" fill="#808080">12°N</text>
<text x="11.75" y="874.70" font-size="23.3" textLength="237.04" lengthAdjust="spacingAndGlyphs" fill="#00ff00">Major Steering Wind</text>
<text x="305.31" y="874.70" font-size="23.3" textLength="202.58" lengthAdjust="spacingAndGlyphs" fill="#ff00ff">Steering Vorticity</text>
<text x="590.24" y="874.70" font-size="23.3" textLength="212.13" lengthAdjust="spacingAndGlyphs" fill="#0000ff">500-850 hPa qvap</text>
</g>
</svg></body></html>
